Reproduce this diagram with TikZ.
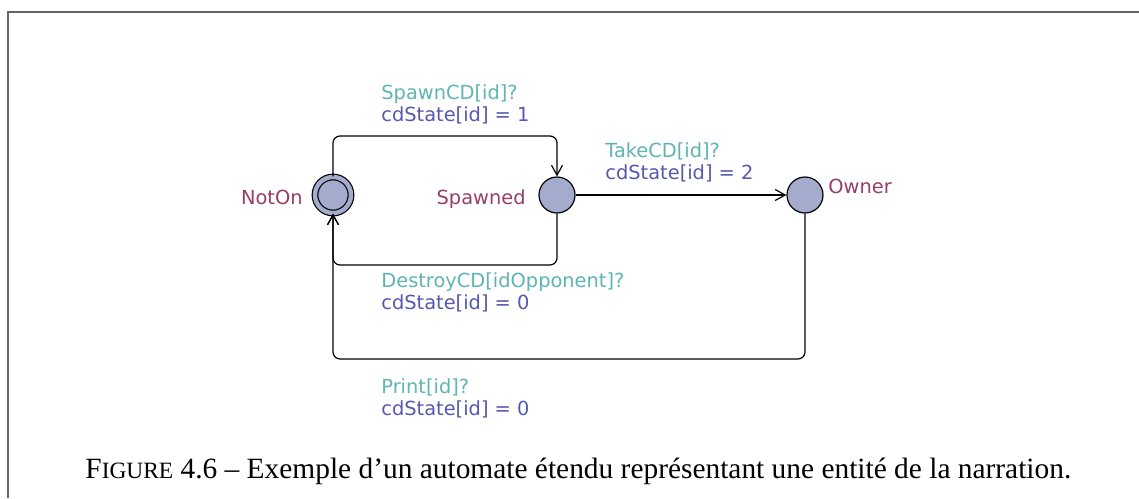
\documentclass[tikz,border=0pt]{standalone}
\usepackage{fontspec}
\setmainfont{Liberation Serif}
\newfontfamily\uppaalfont{DejaVu Sans}
\usepackage{xcolor}
\usepackage{tikz}
\usetikzlibrary{positioning,arrows.meta}

\definecolor{syncteal}{RGB}{95,180,180}
\definecolor{updblue}{RGB}{88,88,175}
\definecolor{locred}{RGB}{150,62,105}
\definecolor{locfill}{RGB}{164,171,204}

\begin{document}
\begin{tikzpicture}[
  x=0.5pt, y=-0.5pt,
  loc/.style={draw, circle, fill=locfill, line width=0.6pt, minimum size=18pt, inner sep=0pt},
  initloc/.style={loc, double=locfill, double distance=2.2pt},
  locname/.style={text=locred, font=\uppaalfont\fontsize{9.7}{11}\selectfont},
  sync/.style={text=syncteal, font=\uppaalfont\fontsize{9.7}{11}\selectfont, inner sep=0pt, anchor=base west},
  upd/.style={text=updblue, font=\uppaalfont\fontsize{9.7}{11}\selectfont, inner sep=0pt, anchor=base west},
  edge/.style={line width=0.6pt, rounded corners=3.5pt, -{Straight Barb[length=5pt, width=5.5pt]}}
]
\useasboundingbox (0,0) rectangle (1139,498);

% frame of the figure
\draw[gray!80!black, line width=0.7pt] (8,498) -- (8,12) -- (1139,12);

% locations
\node[initloc] (notOn) at (333,195) {};
\node[loc] (spawned) at (557,195) {};
\node[loc] (owner) at (805,195) {};

\node[locname, anchor=base east, inner sep=0pt] at (303,204) {NotOn};
\node[locname, anchor=base east, inner sep=0pt] at (526,204) {Spawned};
\node[locname, anchor=base west, inner sep=0pt] at (828,193) {Owner};

% edges
\draw[edge] (notOn.north) -- (notOn |- 0,136) -- (spawned |- 0,136) -- (spawned.north);
\draw[edge] (spawned.east) -- (owner.west);
\draw[edge] (spawned.south) -- (spawned |- 0,265) -- (notOn |- 0,265) -- (notOn.south);
\draw[edge] (owner.south) -- (owner |- 0,359) -- (notOn |- 0,359) -- (notOn.south);

% edge labels
\node[sync] (s1) at (381,99) {SpawnCD[id]?};
\node[upd] at ([yshift=-11.4pt]s1.base west) {cdState[id] = 1};

\node[sync] (s2) at (605,157) {TakeCD[id]?};
\node[upd] at ([yshift=-11.4pt]s2.base west) {cdState[id] = 2};

\node[sync] (s3) at (381,287) {DestroyCD[idOpponent]?};
\node[upd] at ([yshift=-11.4pt]s3.base west) {cdState[id] = 0};

\node[sync] (s4) at (381,393) {Print[id]?};
\node[upd] at ([yshift=-11.4pt]s4.base west) {cdState[id] = 0};

% caption
\node[font=\fontsize{14.7}{17}\selectfont, anchor=base west, inner sep=0pt] (caption) at (85,478)
  {F{\fontsize{11.7}{17}\selectfont IGURE} 4.6 – Exemple d’un automate étendu représentant une entité de la narration.};

\end{tikzpicture}
\end{document}
